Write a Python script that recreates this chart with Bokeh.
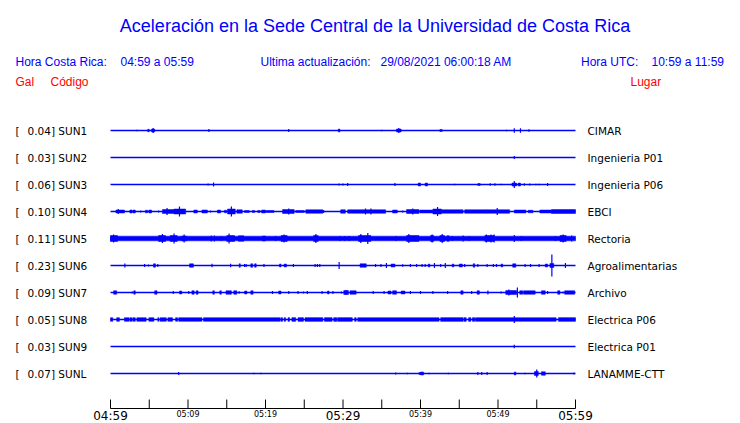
from bokeh.plotting import figure
from bokeh.models import Range1d
from bokeh.embed import file_html
from bokeh.resources import INLINE
from bokeh.core.properties import value

# ---------------- texts ----------------
TITLE = "Aceleración en la Sede Central de la Universidad de Costa Rica"
HORA_CR_LABEL = "Hora Costa Rica:"
HORA_CR = "04:59 a 05:59"
ACT_LABEL = "Ultima actualización:"
ACT_VALUE = "29/08/2021 06:00:18 AM"
HORA_UTC_LABEL = "Hora UTC:"
HORA_UTC = "10:59 a 11:59"

# ---------------- stations ----------------
STATIONS = ["SUN1", "SUN2", "SUN3", "SUN4", "SUN5", "SUN6", "SUN7", "SUN8", "SUN9", "SUNL"]
PEAK_GAL = ["0.04", "0.03", "0.06", "0.10", "0.11", "0.23", "0.09", "0.05", "0.03", "0.07"]
PLACES = ["CIMAR", "Ingenieria P01", "Ingenieria P06", "EBCI", "Rectoria", "Agroalimentarias",
          "Archivo", "Electrica P06", "Electrica P01", "LANAMME-CTT"]

# ---------------- time axis (minutes after 04:59) ----------------
T_START, T_END = 0, 60
TICK_MIN = [0, 5, 10, 15, 20, 25, 30, 35, 40, 45, 50, 55, 60]
BIG_LABEL_MIN = [0, 30, 60]
BIG_LABELS = ["04:59", "05:29", "05:59"]
SMALL_LABEL_MIN = [10, 20, 40, 50]
SMALL_LABELS = ["05:09", "05:19", "05:39", "05:49"]

# ---------------- trace events: (minute, peak-to-peak amplitude) and (from, to, amplitude) ----------------
SUN1_SPIKES = [(3.4, 1.5), (5.5, 5), (12.7, 3), (23.0, 3), (35.0, 1.5), (37.2, 5), (51.1, 1.5),
               (52.1, 4.5), (52.9, 4.5), (54.0, 2.5)]
SUN1_BURSTS = [(4.8, 5.0, 2.5), (5.3, 5.7, 3), (29.4, 29.6, 3), (36.9, 37.5, 3), (42.5, 42.8, 2)]

SUN2_SPIKES = [(52.1, 3)]
SUN2_BURSTS = []

SUN3_SPIKES = [(12.6, 2), (13.3, 4), (29.5, 2), (30.0, 2), (30.6, 3), (36.7, 3), (44.4, 1.5), (49.0, 2.5),
               (49.6, 2.5), (50.4, 1.5), (52.1, 7), (53.4, 2.5), (54.1, 2), (54.9, 1.5), (55.3, 1.5), (56.4, 3)]
SUN3_BURSTS = [(39.7, 40.0, 3), (40.6, 40.9, 3), (47.4, 47.7, 2), (51.8, 52.4, 3), (52.6, 52.9, 3)]

SUN4_SPIKES = [(1.0, 5), (3.9, 2), (6.2, 2), (7.3, 7), (8.9, 10), (12.9, 2), (15.6, 10), (23.0, 6),
               (27.5, 3), (32.9, 6), (33.6, 6), (37.7, 2), (39.0, 6), (42.2, 9), (49.9, 7)]
SUN4_BURSTS = [(0.7, 1.8, 3), (2.5, 2.8, 3), (2.9, 3.2, 3), (4.5, 4.8, 2.5), (4.95, 5.3, 3), (6.7, 8.2, 4),
               (8.2, 9.7, 5), (10.75, 11.2, 3), (11.8, 12.5, 3), (13.8, 14.2, 3), (14.7, 15.0, 2.5),
               (15.1, 16.1, 5), (16.3, 17.0, 3.5), (17.3, 17.9, 2), (18.3, 18.6, 2), (19.0, 19.3, 2),
               (19.5, 20.0, 3), (20.1, 21.1, 2), (22.2, 23.7, 4), (23.9, 25.0, 2), (25.2, 27.4, 3.5),
               (29.7, 30.3, 3.5), (30.6, 32.5, 3.5), (32.5, 35.5, 3.5), (36.4, 37.0, 3), (38.2, 39.8, 4),
               (39.9, 41.6, 3), (41.6, 42.7, 5), (42.7, 45.5, 3.5), (45.7, 48.5, 3.5), (48.5, 51.5, 3.5),
               (52.1, 53.6, 3), (53.9, 54.5, 2.5), (55.4, 56.9, 3), (56.9, 60.0, 4)]

SUN5_SPIKES = [(0.4, 8), (6.7, 9), (8.2, 10), (9.5, 8), (13.0, 6), (13.4, 6), (14.3, 5), (15.3, 10), (21.3, 5),
               (22.4, 8), (26.5, 9), (29.6, 5), (30.2, 5), (30.8, 5), (32.3, 9), (33.2, 11), (36.8, 5),
               (38.5, 9), (41.5, 8), (42.8, 9), (44.1, 5), (45.5, 6), (46.3, 5), (48.5, 8), (49.1, 8),
               (49.5, 8), (52.1, 7), (53.0, 5), (57.4, 5), (58.4, 8), (59.5, 6)]
SUN5_BURSTS = [(0.0, 60.0, 4.7), (0.0, 0.9, 6), (6.2, 7.1, 6), (7.7, 8.6, 6), (9.2, 9.8, 5), (15.0, 16.0, 6),
               (16.5, 17.2, 5.5), (19.6, 20.0, 5), (22.0, 22.8, 6), (26.2, 26.8, 6), (32.0, 33.6, 6),
               (38.2, 39.8, 6), (41.3, 41.7, 6), (42.5, 43.1, 6), (43.4, 43.7, 5.5), (48.3, 49.5, 6),
               (58.0, 58.8, 6)]

SUN6_SPIKES = [(1.85, 4), (4.4, 3), (4.9, 2), (6.1, 3), (13.1, 3.5), (15.5, 3.5), (17.3, 3), (17.5, 3),
               (19.8, 3), (23.6, 3), (26.4, 3), (26.7, 3), (27.0, 3), (29.5, 7), (34.2, 3), (34.9, 3),
               (35.6, 5), (37.7, 2.5), (38.7, 3), (39.5, 3), (40.2, 3), (40.6, 3), (41.8, 5), (42.6, 3),
               (43.2, 5), (45.7, 3), (47.4, 3), (48.6, 3), (49.4, 3), (49.8, 3), (53.5, 3), (54.2, 3),
               (55.3, 3), (56.95, 22), (58.7, 5)]
SUN6_BURSTS = [(5.55, 5.8, 3.5), (10.2, 10.7, 3.5), (16.6, 16.75, 3.5), (18.1, 18.35, 3.5), (18.6, 18.8, 3.5),
               (21.8, 22.0, 3), (22.4, 22.7, 3), (32.2, 33.0, 3.5), (36.2, 36.7, 3), (41.0, 41.2, 3),
               (44.1, 44.3, 3), (45.0, 45.4, 3), (46.8, 47.0, 3.5), (50.4, 50.6, 3), (51.9, 52.3, 3.5),
               (56.1, 56.4, 3), (56.7, 57.2, 4)]

SUN7_SPIKES = [(2.8, 2), (8.1, 3), (10.1, 3), (16.6, 2.5), (20.9, 3), (23.0, 3), (24.2, 3), (24.9, 2),
               (25.4, 3), (27.3, 3), (28.7, 3), (29.8, 2), (30.4, 5), (33.9, 3), (35.3, 3), (38.7, 3),
               (40.0, 3), (41.6, 3), (43.5, 3), (46.6, 3), (48.7, 4), (50.4, 2), (51.4, 6), (52.5, 10),
               (56.4, 3), (58.4, 2)]
SUN7_BURSTS = [(0.4, 0.8, 3.5), (3.0, 3.2, 3.5), (5.7, 6.0, 3.5), (8.9, 9.2, 3), (10.5, 10.8, 3.5),
               (11.05, 11.3, 3.5), (13.2, 13.4, 3.5), (14.1, 14.3, 3.5), (14.9, 15.6, 3.5), (15.9, 16.3, 3.5),
               (17.3, 17.6, 3), (18.1, 18.4, 3.5), (21.7, 22.0, 3), (28.0, 28.2, 3), (30.1, 30.7, 4),
               (30.9, 31.7, 3.5), (35.8, 36.2, 3), (36.4, 36.9, 3.5), (37.5, 38.0, 3), (45.2, 45.5, 3.5),
               (47.3, 47.6, 3.5), (51.0, 51.6, 4), (51.6, 52.4, 4), (52.8, 53.2, 3.5), (53.3, 54.8, 3.5),
               (55.6, 56.1, 3.5), (57.7, 58.0, 3.5), (58.6, 59.9, 3.5)]

SUN8_SPIKES = [(52.1, 7)]
SUN8_BURSTS = [(0.0, 0.3, 3.7), (0.8, 1.15, 3.7), (1.8, 2.4, 3.7), (2.5, 2.8, 3.7), (2.9, 3.2, 3.7),
               (3.4, 4.6, 3.7), (4.95, 5.6, 3.7), (6.1, 6.25, 3.7), (6.4, 7.2, 3.7), (7.4, 8.0, 3.7),
               (8.4, 8.65, 3.7), (8.8, 11.8, 3.7), (12.0, 21.9, 3.7), (22.0, 22.2, 3.7), (22.4, 22.6, 3.7),
               (22.9, 23.1, 3.7), (23.4, 23.9, 3.7), (24.2, 24.9, 3.7), (25.1, 27.4, 3.7), (27.6, 28.6, 3.7),
               (28.8, 29.2, 3.7), (29.3, 31.2, 3.7), (31.5, 31.7, 3.7), (31.9, 42.4, 3.7), (42.6, 45.5, 3.7),
               (45.6, 45.9, 3.7), (46.2, 46.5, 3.7), (46.7, 47.0, 3.7), (47.1, 57.5, 3.7), (57.8, 60.0, 3.7)]

SUN9_SPIKES = [(52.1, 3.5)]
SUN9_BURSTS = []

SUNL_SPIKES = [(8.8, 3), (18.5, 1.5), (19.4, 1.5), (36.8, 2), (38.3, 1.5), (41.1, 1.5), (43.6, 1.5),
               (47.4, 3), (47.9, 3), (48.6, 3), (53.5, 1.5), (55.0, 8), (59.8, 2)]
SUNL_BURSTS = [(39.8, 40.0, 2), (40.0, 40.4, 3), (52.1, 52.3, 3), (54.7, 55.2, 4), (55.6, 56.1, 3.5)]

ALL_SPIKES = [SUN1_SPIKES, SUN2_SPIKES, SUN3_SPIKES, SUN4_SPIKES, SUN5_SPIKES,
              SUN6_SPIKES, SUN7_SPIKES, SUN8_SPIKES, SUN9_SPIKES, SUNL_SPIKES]
ALL_BURSTS = [SUN1_BURSTS, SUN2_BURSTS, SUN3_BURSTS, SUN4_BURSTS, SUN5_BURSTS,
              SUN6_BURSTS, SUN7_BURSTS, SUN8_BURSTS, SUN9_BURSTS, SUNL_BURSTS]

# ---------------- layout ----------------
W, H = 740, 423
PX_PER_MIN = 7.75
X0_PX = 110          # canvas x of minute 0
ROW_PX = 27
ROW0_PX = 130        # canvas y of first row
BLUE = "#0000ff"
RED = "#ff0000"


def cx(px):
    return (px - X0_PX) / PX_PER_MIN


def cy(py):
    return (py - ROW0_PX) / ROW_PX


def half(a):
    return a / 2.0 / ROW_PX


p = figure(width=W, height=H, output_backend="svg", toolbar_location=None,
           x_axis_type=None, y_axis_type=None,
           x_range=Range1d(cx(0), cx(W)), y_range=Range1d(cy(H), cy(0)),
           min_border=0, min_border_left=0, min_border_right=0,
           min_border_top=0, min_border_bottom=0)
p.outline_line_color = None
p.background_fill_color = "white"
p.border_fill_color = "white"

# baselines
rows = list(range(len(STATIONS)))
p.segment(x0=[T_START] * len(rows), x1=[T_END] * len(rows), y0=rows, y1=rows,
          line_color=BLUE, line_width=1.3)

# bursts
bl, br, bt, bb = [], [], [], []
for i, bursts in enumerate(ALL_BURSTS):
    for (t0, t1, a) in bursts:
        bl.append(t0); br.append(t1)
        bt.append(i - half(a)); bb.append(i + half(a))
p.quad(left=bl, right=br, top=bt, bottom=bb, fill_color=BLUE, line_color=BLUE, line_width=0.5)

# spikes
sx, sy0, sy1 = [], [], []
for i, spikes in enumerate(ALL_SPIKES):
    for (t, a) in spikes:
        sx.append(t); sy0.append(i - half(a)); sy1.append(i + half(a))
p.segment(x0=sx, x1=sx, y0=sy0, y1=sy1, line_color=BLUE, line_width=1.2)

# station labels
DV = value("DejaVu Sans")
p.text(x=[cx(15)] * len(rows), y=rows, text=["["] * len(rows), text_font=DV,
       text_font_size="10.5px", text_color="black", text_baseline="middle")
p.text(x=[cx(27)] * len(rows), y=rows, text=[f"{g}] {s}" for g, s in zip(PEAK_GAL, STATIONS)],
       text_font=DV, text_font_size="10.5px", text_color="black", text_baseline="middle")
p.text(x=[cx(587)] * len(rows), y=rows, text=PLACES, text_font=DV,
       text_font_size="10.5px", text_color="black", text_baseline="middle")

# header
LS = value("Liberation Sans")
p.text(x=[cx(374.5)], y=[cy(25)], text=[TITLE], text_font=LS, text_font_size="18px",
       text_color=BLUE, text_align="center", text_baseline="alphabetic")
p.text(x=[cx(15), cx(120), cx(260), cx(380), cx(580.5), cx(651)], y=[cy(61)] * 6,
       text=[HORA_CR_LABEL, HORA_CR, ACT_LABEL, ACT_VALUE, HORA_UTC_LABEL, HORA_UTC],
       text_font=LS, text_font_size="12px", text_color=BLUE, text_baseline="alphabetic")
p.text(x=[cx(15), cx(50), cx(630)], y=[cy(81)] * 3, text=["Gal", "Código", "Lugar"],
       text_font=LS, text_font_size="12px", text_color=RED, text_baseline="alphabetic")

# time axis
AX_Y = cy(408)
p.segment(x0=[T_START], x1=[T_END], y0=[AX_Y], y1=[AX_Y], line_color="black", line_width=1)
p.segment(x0=TICK_MIN, x1=TICK_MIN, y0=[AX_Y] * len(TICK_MIN), y1=[cy(399)] * len(TICK_MIN),
          line_color="black", line_width=1)
p.text(x=BIG_LABEL_MIN, y=[cy(415.5)] * len(BIG_LABEL_MIN), text=BIG_LABELS, text_font=DV,
       text_font_size="12px", text_color="black", text_align="center", text_baseline="alphabetic")
p.text(x=SMALL_LABEL_MIN, y=[cy(414)] * len(SMALL_LABEL_MIN), text=SMALL_LABELS, text_font=DV,
       text_font_size="8px", text_color="black", text_align="center", text_baseline="alphabetic")

open("out.html", "w").write(file_html(p, INLINE))
